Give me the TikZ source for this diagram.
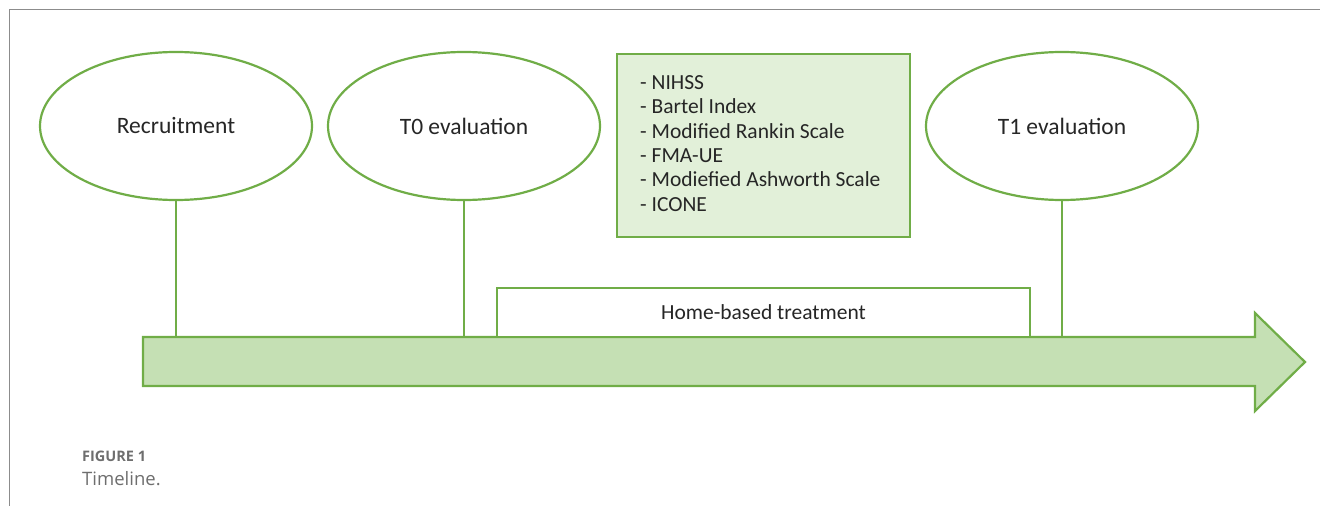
\documentclass[tikz,border=0pt]{standalone}
\usepackage{fontspec}
\setmainfont{Carlito}
\newfontfamily\capfont{Open Sans}
\usetikzlibrary{shapes.geometric}
\definecolor{gborder}{HTML}{70AD47}
\definecolor{gfill}{HTML}{C5E0B4}
\definecolor{lfill}{HTML}{E2F0D9}
\definecolor{frame}{HTML}{8C8C8C}
\definecolor{captxt}{HTML}{6E6E6E}
\definecolor{txt}{HTML}{262626}
\tikzset{
  evt/.style={draw=gborder, line width=2.2pt, fill=white, ellipse, minimum width=272pt, minimum height=148pt, inner sep=0pt, text=txt, font=\fontsize{23.5}{28}\selectfont},
  link/.style={draw=gborder, line width=1.2pt},
  listbox/.style={draw=gborder, line width=2.2pt, fill=lfill, minimum width=293pt, minimum height=183pt, inner sep=0pt},
  treat/.style={draw=gborder, line width=2.2pt, fill=white, minimum width=533pt, minimum height=49pt, inner sep=0pt, text=txt, font=\fontsize{21.5}{25}\selectfont},
}
\begin{document}
\begin{tikzpicture}[x=1pt,y=-1pt]
\useasboundingbox (0,0) rectangle (1320,506);
% frame
\draw[frame, line width=1.6pt] (9.5,506) -- (9.5,9.5) -- (1320,9.5);
% arrow
\draw[gborder, line width=2.2pt, fill=gfill, line join=miter]
  (143,337) -- (1255,337) -- (1255,313) -- (1305,362) -- (1255,411) -- (1255,386) -- (143,386) -- cycle;
\coordinate (atop) at (143,337);
% events
\node[evt] (rec) at (176,126) {Recruitment};
\node[evt] (t0) at (464,126) {T0 evaluation};
\node[evt] (t1) at (1062,126) {T1 evaluation};
\draw[link] (rec.south) -- (rec.south |- atop);
\draw[link] (t0.south) -- (t0.south |- atop);
\draw[link] (t1.south) -- (t1.south |- atop);
% list
\node[listbox] (list) at (763.5,145.5) {};
\node[anchor=north west, align=left, inner sep=0pt, text=txt, font=\fontsize{21.5}{24.3}\selectfont] (items) at (640,75.5)
 {- NIHSS\\- Bartel Index\\- Modified Rankin Scale\\- FMA-UE\\- Modiefied Ashworth Scale\\- ICONE};
% treatment
\node[treat] (home) at (763.5,312.5) {Home-based treatment};
% caption
\node[anchor=base west, inner sep=0pt, text=captxt, font=\capfont\bfseries\fontsize{14.5}{17}\selectfont] (fig) at (82,461) {FIGURE 1};
\node[anchor=base west, inner sep=0pt, text=captxt, font=\capfont\fontsize{18.5}{22}\selectfont] (cap) at (82,485) {Timeline.};
\end{tikzpicture}
\end{document}
